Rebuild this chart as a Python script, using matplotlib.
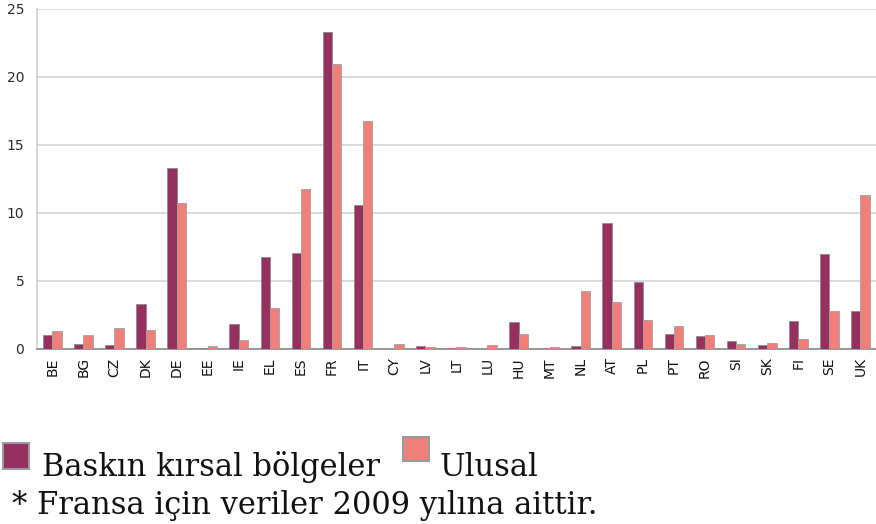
import matplotlib
matplotlib.use("Agg")
import matplotlib.pyplot as plt
from matplotlib.patches import Rectangle
import numpy as np

countries = ["BE", "BG", "CZ", "DK", "DE", "EE", "IE", "EL", "ES", "FR", "IT", "CY", "LV", "LT",
             "LU", "HU", "MT", "NL", "AT", "PL", "PT", "RO", "SI", "SK", "FI", "SE", "UK"]
rural = [1.05, 0.4, 0.27, 3.33, 13.3, 0.1, 1.84, 6.74, 7.06, 23.33, 10.56, 0.0, 0.25, 0.07,
         0.0, 2.0, 0.0, 0.25, 9.26, 4.93, 1.1, 0.98, 0.61, 0.32, 2.03, 7.0, 2.8]
national = [1.3, 1.0, 1.55, 1.37, 10.7, 0.25, 0.64, 3.0, 11.74, 20.96, 16.74, 0.34, 0.15, 0.12,
            0.3, 1.1, 0.12, 4.24, 3.46, 2.16, 1.67, 1.05, 0.34, 0.44, 0.74, 2.8, 11.35]
yticks = [0, 5, 10, 15, 20, 25]
legend_labels = ["Baskın kırsal bölgeler", "Ulusal"]
note = "* Fransa için veriler 2009 yılına aittir."

c_dark = "#96305E"
c_light = "#F07F79"

fig = plt.figure(figsize=(8.76, 5.24), dpi=100)
ax = fig.add_axes([0.042, 0.334, 0.958, 0.649])

x = np.arange(len(countries))
w = 0.3
ax.bar(x - w / 2, rural, width=w, color=c_dark, edgecolor="#8a8a8a", linewidth=0.6, zorder=3)
ax.bar(x + w / 2, national, width=w, color=c_light, edgecolor="#a0a0a0", linewidth=0.6, zorder=3)

ax.set_xlim(-0.5, len(countries) - 0.5)
ax.set_ylim(0, 25)
ax.set_yticks(yticks)
ax.set_yticklabels([str(v) for v in yticks], fontsize=10, family="DejaVu Sans", color="#2a2a2a")
ax.set_xticks(x)
ax.set_xticklabels(countries, rotation=90, fontsize=10, family="DejaVu Sans", color="#111111")
ax.tick_params(axis="y", length=0, pad=9)
ax.tick_params(axis="x", length=0, pad=6)
ax.yaxis.grid(True, color="#d4d4d4", linewidth=1.2, zorder=0)
ax.set_axisbelow(True)
for s in ["top", "right"]:
    ax.spines[s].set_visible(False)
ax.spines["left"].set_color("#cfcfcf")
ax.spines["left"].set_linewidth(1.2)
ax.spines["bottom"].set_color("#888888")
ax.spines["bottom"].set_linewidth(1.2)

W, H = 876, 524
def fx(px):
    return px / W
def fy(py):
    return 1 - py / H

fig.patches.append(Rectangle((fx(3), fy(469)), 26 / W, 26 / H, transform=fig.transFigure,
                             facecolor=c_dark, edgecolor="#9a9a9a", linewidth=1.5))
fig.patches.append(Rectangle((fx(403), fy(461)), 26 / W, 24 / H, transform=fig.transFigure,
                             facecolor=c_light, edgecolor="#9a9a9a", linewidth=1.5))
fs = 22
fig.text(fx(42), fy(476), legend_labels[0], fontsize=fs, family="DejaVu Serif", color="#111111",
         ha="left", va="baseline")
fig.text(fx(440), fy(476), legend_labels[1], fontsize=fs, family="DejaVu Serif", color="#111111",
         ha="left", va="baseline")
fig.text(fx(12), fy(514), note, fontsize=fs, family="DejaVu Serif", color="#111111",
         ha="left", va="baseline")

fig.savefig("out.png", dpi=100)
